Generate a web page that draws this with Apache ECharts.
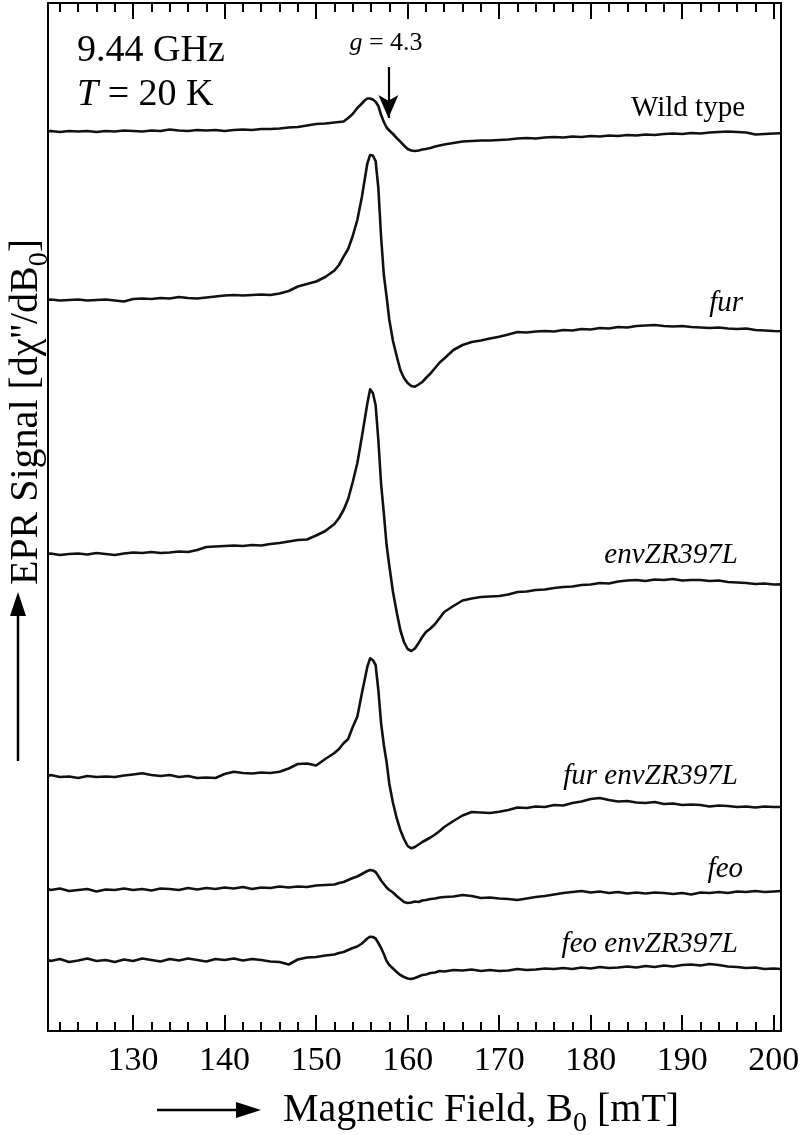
<!DOCTYPE html>
<html><head><meta charset="utf-8">
<script src="https://cdn.jsdelivr.net/npm/echarts@6/dist/echarts.min.js"></script>
<style>html,body{margin:0;padding:0;background:#fff}#c{width:800px;height:1135px}</style>
</head><body><div id="c"></div>
<script>
// Magnetic field B0 (mT)
const field = [120.7,121,122,123,124,125,126,127,128,129,
  130,131,132,133,134,135,136,137,138,139,
  140,141,142,143,144,145,146,147,148,149,
  150,151,152,
  152.5,153,153.5,154,154.5,155,
  155.3,155.6,155.9,156.2,156.5,156.8,157.1,157.4,157.7,158,
  158.4,158.8,159.2,159.6,160,160.4,160.8,161.2,161.6,162,
  162.5,163,163.5,164,
  165,166,167,168,169,170,171,172,173,174,
  175,176,177,178,179,180,181,182,183,184,
  185,186,187,188,189,190,191,192,193,194,
  195,196,197,198,199,200,
  200.8];

// EPR signal (arbitrary units, traces offset vertically)
const wildType = [868.5,869,868,869,868.5,869,868,869,868.5,869.5,
  869,868.5,869.5,869,870.5,869.5,869,870,869.5,870,
  869,870,870.5,870,871,871,871.5,872.5,873,874.5,
  876,876.5,877.5,
  878,878.5,882,886,892,896.5,
  899.5,901.5,901.5,900.5,898.3,894,885,878,872.5,869.5,
  866,862,858.3,854.5,851,849.5,849,849.5,850.5,851,
  852,853.5,854.5,855.5,
  857,858.5,859,859.5,859.5,860,860.5,861.5,862,861.5,
  862.5,863,862.5,863.5,863,864,863.5,864.5,864,865,
  864.5,865.5,865,866,866.5,866,867,866.5,867.5,868,
  868.5,868,867.5,865.5,866,866.5,
  866.7];

const fur = [700,700.5,699.5,700,700.5,699.5,700,700.5,699.5,698.5,
  701,701.5,701,702,701.5,703,702,701.5,702.5,703.5,
  704.5,705,704.5,705,705.5,705,706.5,709,713.5,716,
  718.5,723,729.5,
  735,743.3,751,764,780,803,
  820,836.7,845,844.5,839,812,763,725,703.3,680,
  659,644,630,622,617,614,613.3,615.5,618,622,
  626.7,632,637.5,641.5,
  650,655,658,659.5,661.5,663.3,665.5,668,667.5,668.5,
  669,668.5,670,669.5,671,670.5,672,671.5,673,672.5,
  674,674.5,675,674,673.5,674,673,672.5,672,672.5,
  671.5,671,671.5,670,669.5,669,
  668.8];

const envZR397L = [446,446.5,445,446,446.5,445.5,447,446,445,446.5,
  447.5,447,448,447,447.5,448.5,448,450,453,453.5,
  454,454.5,454,455,454.5,456,457,458.5,460,460.5,
  464.5,469,476,
  482,490,501,518,536.7,563.3,
  580,596.7,610.7,607,595,560,516,486.7,455,434,
  408,388,370,358,351,349,351.5,357,363,368,
  371.5,376,382,388,
  394,399.5,401.5,403,403.5,404,405.5,408,408.5,410,
  410.5,412,413,413.5,415,415.5,417,416.5,418.5,419.5,
  420,419,420.5,420,421,419.5,420,420,419,419.5,
  418,417.5,417,416,416.5,415.5,
  415.6];

const furEnvZR397L = [224,225,223,223.5,222,224,223,223.5,223,224.5,
  225.5,226.7,225,224,225,223,224,222,222.5,222,
  226,228.3,227,226.5,227.5,227,228.3,231.5,236,236.5,
  234.5,241,247,
  251,256.7,261,273,283.3,306.7,
  320,333.3,341.7,340,335,310,276.7,255,238,216,
  197,182,170,161,154,151.7,153,155.5,158,160,
  162.5,165.5,169,173,
  179,184.5,188,187.5,187,188.3,190,192.5,192,193.5,
  193,195,194.5,197,198.5,201,202,200,198.5,199,
  197.5,197,198,196,196.5,195,195.5,195,193.5,194.5,
  194,193,193.5,192.5,193.5,193,
  193];

const feo = [111,110,111.5,109,110,111,108.5,110.5,110,111.5,
  110,111,109.5,111.5,111,110,112,110.5,112,111,
  112.5,111.5,113,111,112.5,112,113.5,112.5,113.5,113,
  114.5,115,115.5,
  117,118,120,122,123.5,126,
  127.5,129,130,129.5,128,124,119.5,116,112.5,110,
  107.5,104,101,98,97,97.5,98.5,98,99.5,100,
  101,101.5,102.5,103,
  103.5,105,104,102,102.5,101.5,101,100,101.5,103,
  104,105.5,107,108,109,107.5,108.5,107,108,106.5,
  107.5,106.5,107.5,107,106,107,105.5,107.5,107,108,
  107,108.5,108,109,108,108.5,
  109];

const feoEnvZR397L = [40,39,41,38,39.5,41.5,39,40,38,40.5,
  39,41.5,40,38.5,41,39.5,41.5,40,38.5,41,
  40,41.5,39.5,41,40,38.5,38,35.5,40.5,42.5,
  43,44.5,45.5,
  47,48,50,52,53.5,56.5,
  59,61.5,63.3,63,61.5,57,52,46,39,35,
  31.5,28,25,23,21.5,21,22,23.5,25,25.5,
  27,27.5,29,28.5,
  30,29.5,30.5,29,30,29,29.5,31,30,30.5,
  31.5,31,32,31,32.5,31.5,33,32,32.5,33.5,
  32.5,34,33,34.5,33.5,35,35.5,34.5,36,35,
  33.5,33,32,32.5,31,31.5,
  31];

const seriesNames = ['Wild type','fur','envZR397L','fur envZR397L','feo','feo envZR397L'];
const seriesValues = [wildType, fur, envZR397L, furEnvZR397L, feo, feoEnvZR397L];
const majorTicks = [130,140,150,160,170,180,190,200];
const minorTicks = [122,124,126,128,132,134,136,138,142,144,146,148,152,154,156,158,
  162,164,166,168,172,174,176,178,182,184,186,188,192,194,196,198];
const xRange = [120.7, 200.8];
const yRange = [-31, 997];
const gMarker = { field: 157.9, from: 933, to: 882 }; // g = 4.3 arrow

const FONT = 'Liberation Serif';
const chart = echarts.init(document.getElementById('c'), null, {renderer: 'canvas'});

function xAx(pos, ticks, len, showLine, showLabel) {
  return {
    type: 'value', position: pos, min: xRange[0], max: xRange[1], gridIndex: 0,
    axisLine: {show: showLine, onZero: false, lineStyle: {color: '#000', width: 2}},
    axisTick: {show: true, inside: true, length: len, customValues: ticks, lineStyle: {color: '#000', width: 2}},
    axisLabel: {show: showLabel, customValues: ticks, margin: 13, color: '#000', fontFamily: FONT, fontSize: 34},
    splitLine: {show: false}, minorTick: {show: false}
  };
}

const series = seriesNames.map((name, i) => ({
  name: name, type: 'line', xAxisIndex: 0, yAxisIndex: 0,
  data: field.map((b, k) => [b, seriesValues[i][k]]),
  showSymbol: false, symbol: 'none', smooth: false, animation: false,
  lineStyle: {color: '#111', width: 2.6, join: 'round'},
  z: 3
}));
series[0].markLine = {
  silent: true, animation: false, symbol: ['none', 'arrow'], symbolSize: [15, 23],
  label: {show: false},
  lineStyle: {color: '#000', width: 2.2, type: 'solid'},
  data: [[{coord: [gMarker.field, gMarker.from]}, {coord: [gMarker.field, gMarker.to]}]]
};

const labelPos = [[745, 108], [743, 303], [738, 555], [738, 776], [743, 869], [738, 944]];
const labelGraphics = seriesNames.map((n, i) => ({
  type: 'text', x: labelPos[i][0], y: labelPos[i][1], z: 10,
  style: {text: n, fill: '#000', align: 'right', verticalAlign: 'middle',
    font: (i === 0 ? '' : 'italic ') + '29px "' + FONT + '"'}
}));

chart.setOption({
  backgroundColor: '#fff',
  animation: false,
  grid: {left: 48, right: 19, top: 3, bottom: 104, containLabel: false, outerBoundsMode: 'none'},
  xAxis: [
    xAx('bottom', majorTicks, 16, true, true),
    xAx('bottom', minorTicks, 9, false, false),
    xAx('top', majorTicks, 16, true, false),
    xAx('top', minorTicks, 9, false, false)
  ],
  yAxis: [
    {type: 'value', min: yRange[0], max: yRange[1], position: 'left',
     axisLine: {show: true, onZero: false, lineStyle: {color: '#000', width: 2}},
     axisTick: {show: false}, axisLabel: {show: false}, splitLine: {show: false}},
    {type: 'value', min: yRange[0], max: yRange[1], position: 'right',
     axisLine: {show: true, onZero: false, lineStyle: {color: '#000', width: 2}},
     axisTick: {show: false}, axisLabel: {show: false}, splitLine: {show: false}}
  ],
  series: series,
  graphic: labelGraphics.concat([
    {type: 'text', x: 77, y: 51, style: {text: '9.44 GHz', fill: '#000', align: 'left', verticalAlign: 'middle', font: '38px "' + FONT + '"'}},
    {type: 'text', x: 77, y: 95, style: {text: '{i|T}{n| = 20 K}', align: 'left', verticalAlign: 'middle',
      rich: {i: {fontFamily: FONT, fontSize: 38, fontStyle: 'italic', fill: '#000', color: '#000'},
             n: {fontFamily: FONT, fontSize: 38, fill: '#000', color: '#000'}}}},
    {type: 'text', x: 386, y: 43, style: {text: '{i|g}{n| = 4.3}', align: 'center', verticalAlign: 'middle',
      rich: {i: {fontFamily: FONT, fontSize: 26, fontStyle: 'italic', color: '#000'},
             n: {fontFamily: FONT, fontSize: 26, color: '#000'}}}},
    // x-axis title with arrow
    {type: 'line', shape: {x1: 157, y1: 1110, x2: 240, y2: 1110}, style: {stroke: '#000', lineWidth: 2.5}},
    {type: 'polygon', shape: {points: [[236, 1102], [261, 1110], [236, 1118]]}, style: {fill: '#000'}},
    {type: 'text', x: 283, y: 1110, style: {text: '{n|Magnetic Field, B}{s|0}{n| [mT]}', align: 'left', verticalAlign: 'middle',
      rich: {n: {fontFamily: FONT, fontSize: 40, color: '#000', verticalAlign: 'bottom'},
             s: {fontFamily: FONT, fontSize: 28, color: '#000', verticalAlign: 'bottom', padding: [0, 0, -8, 0]}}}},
    // y-axis title with arrow
    {type: 'line', shape: {x1: 18, y1: 761, x2: 18, y2: 612}, style: {stroke: '#000', lineWidth: 2.5}},
    {type: 'polygon', shape: {points: [[10, 616], [18, 592], [26, 616]]}, style: {fill: '#000'}},
    {type: 'text', x: 26, y: 412, rotation: Math.PI / 2,
      style: {text: "{n|EPR Signal [d\u03c7''/dB}{s|0}{n|]}", align: 'center', verticalAlign: 'middle',
      rich: {n: {fontFamily: FONT, fontSize: 40, color: '#000', verticalAlign: 'bottom'},
             s: {fontFamily: FONT, fontSize: 28, color: '#000', verticalAlign: 'bottom', padding: [0, 0, -8, 0]}}}}
  ])
});
</script>
</body></html>
